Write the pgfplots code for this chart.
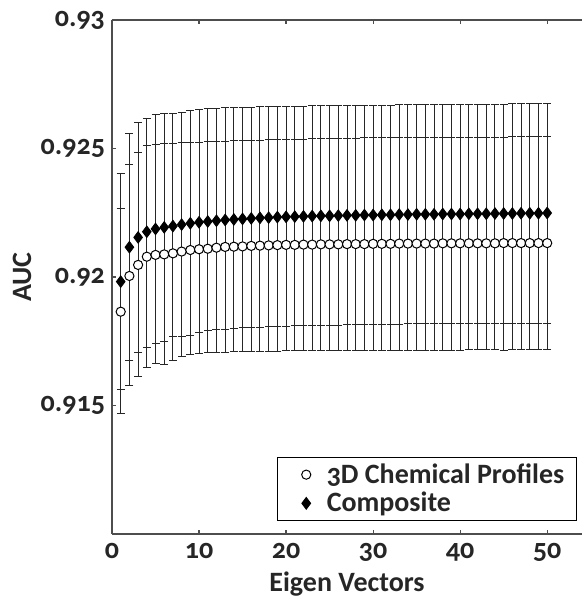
\documentclass[border=0pt]{standalone}
\usepackage{fontspec}
\setmainfont{Carlito}[Numbers=OldStyle]
\usepackage{pgfplots}
\pgfplotsset{compat=1.18}
\usepackage{pgfplotstable}

\definecolor{axc}{HTML}{4D4D4D}
\definecolor{txc}{HTML}{262626}

% x, composite, 3D profiles, outer bar centre/half, inner bar centre/half
\pgfplotstableread{
x d c oc oh ic ih
1 0.91982 0.91865 0.91936 0.00468 0.91915 0.00351
2 0.92116 0.92004 0.92068 0.00492 0.92057 0.00382
3 0.92154 0.92047 0.92106 0.00494 0.92095 0.00388
4 0.92176 0.92079 0.92132 0.00485 0.92118 0.00393
5 0.92187 0.92086 0.92149 0.00485 0.92129 0.00387
6 0.92193 0.92088 0.92149 0.00488 0.92134 0.00385
7 0.92198 0.92092 0.92157 0.00480 0.92144 0.00376
8 0.92204 0.92099 0.92166 0.00476 0.92146 0.00376
9 0.92209 0.92105 0.92172 0.00475 0.92148 0.00374
10 0.92213 0.92108 0.92177 0.00475 0.92155 0.00370
11 0.92216 0.92110 0.92180 0.00475 0.92159 0.00369
12 0.92219 0.92114 0.92181 0.00475 0.92161 0.00367
13 0.92222 0.92117 0.92183 0.00475 0.92163 0.00366
14 0.92224 0.92118 0.92184 0.00475 0.92165 0.00365
15 0.92226 0.92119 0.92185 0.00475 0.92167 0.00365
16 0.92228 0.92121 0.92186 0.00475 0.92168 0.00364
17 0.92230 0.92122 0.92187 0.00475 0.92169 0.00364
18 0.92231 0.92123 0.92187 0.00476 0.92170 0.00364
19 0.92233 0.92124 0.92188 0.00476 0.92171 0.00364
20 0.92234 0.92125 0.92189 0.00476 0.92172 0.00364
21 0.92235 0.92125 0.92189 0.00476 0.92173 0.00363
22 0.92236 0.92126 0.92189 0.00476 0.92173 0.00363
23 0.92237 0.92126 0.92190 0.00476 0.92174 0.00363
24 0.92238 0.92127 0.92190 0.00477 0.92175 0.00363
25 0.92238 0.92127 0.92190 0.00477 0.92175 0.00363
26 0.92239 0.92127 0.92190 0.00477 0.92176 0.00363
27 0.92240 0.92128 0.92191 0.00477 0.92177 0.00363
28 0.92240 0.92128 0.92191 0.00477 0.92177 0.00363
29 0.92241 0.92128 0.92191 0.00477 0.92178 0.00363
30 0.92241 0.92129 0.92191 0.00477 0.92178 0.00363
31 0.92242 0.92129 0.92192 0.00477 0.92179 0.00362
32 0.92242 0.92129 0.92192 0.00477 0.92179 0.00362
33 0.92243 0.92130 0.92192 0.00478 0.92179 0.00362
34 0.92243 0.92130 0.92192 0.00478 0.92180 0.00362
35 0.92244 0.92130 0.92193 0.00478 0.92180 0.00362
36 0.92244 0.92130 0.92193 0.00478 0.92180 0.00362
37 0.92244 0.92130 0.92193 0.00478 0.92181 0.00362
38 0.92245 0.92131 0.92193 0.00478 0.92181 0.00362
39 0.92245 0.92131 0.92193 0.00478 0.92181 0.00362
40 0.92245 0.92131 0.92193 0.00478 0.92181 0.00362
41 0.92246 0.92131 0.92194 0.00478 0.92182 0.00362
42 0.92246 0.92131 0.92194 0.00478 0.92182 0.00362
43 0.92246 0.92131 0.92194 0.00478 0.92182 0.00362
44 0.92247 0.92131 0.92194 0.00478 0.92182 0.00362
45 0.92247 0.92132 0.92194 0.00479 0.92182 0.00362
46 0.92247 0.92132 0.92195 0.00479 0.92183 0.00362
47 0.92248 0.92132 0.92195 0.00479 0.92183 0.00362
48 0.92248 0.92132 0.92195 0.00479 0.92183 0.00362
49 0.92248 0.92132 0.92195 0.00479 0.92183 0.00362
50 0.92249 0.92132 0.92195 0.00479 0.92183 0.00362
}\datatab

\begin{document}
\begin{tikzpicture}
\begin{axis}[
  scale only axis, width=235pt, height=257pt,
  xmin=0, xmax=54, ymin=0.91, ymax=0.93,
  axis x line*=box, axis y line*=left,
  axis line style={axc, line width=0.6pt},
  xtick={0,10,20,30,40,50}, ytick={0.915,0.92,0.925,0.93},
  yticklabels={0.915,0.92,0.925,0.93},
  ytick pos=left, tick align=inside,
  major tick length=2pt, tick style={axc, line width=0.6pt},
  /pgf/number format/assume math mode=true,
  every tick label/.append style={font=\fontsize{14}{16}\selectfont\bfseries, text=txc},
  xticklabel style={yshift=-1pt},
  xlabel={Eigen Vectors}, ylabel={AUC},
  every axis y label/.style={at={(axis description cs:-0.1915,0.5)}, rotate=90, anchor=center,
    font=\fontsize{14}{16}\selectfont\bfseries, text=txc},
  every axis x label/.style={at={(axis description cs:0.5,-0.1109)}, anchor=base,
    font=\fontsize{14}{16}\selectfont\bfseries, text=txc, inner sep=0pt},
  legend style={at={(axis description cs:0.989,0.025)}, anchor=south east,
    draw=black, line width=0.5pt, fill=white,
    font=\fontsize{14}{16}\selectfont\bfseries, text=txc,
    inner xsep=4pt, inner ysep=1pt, row sep=-1pt},
  legend cell align=left,
  legend image code/.code={\path (-10pt,0pt) (8pt,0pt); \draw[#1] plot coordinates {(0pt,0pt)};},
]
% outer and inner error bars
\addplot[draw=none, no markers, forget plot,
  error bars/.cd, y dir=both, y explicit, error mark=-,
  error bar style={draw=black!85, line width=0.5pt, solid},
  error mark options={draw=black!85, line width=0.5pt, mark size=2pt, rotate=90}]
  table[x=x, y=oc, y error=oh] {\datatab};
\addplot[draw=none, no markers, forget plot,
  error bars/.cd, y dir=both, y explicit, error mark=-,
  error bar style={draw=black!85, line width=0.5pt, solid},
  error mark options={draw=black!85, line width=0.5pt, mark size=2pt, rotate=90}]
  table[x=x, y=ic, y error=ih] {\datatab};
% markers
\addplot[only marks, mark=*, mark size=2.3pt,
  mark options={fill=white, draw=black, line width=0.5pt}]
  table[x=x, y=c] {\datatab};
\addlegendentry{3D Chemical Profiles}
\addplot[only marks, mark=diamond*, mark size=2.9pt,
  mark options={fill=black, draw=black}]
  table[x=x, y=d] {\datatab};
\addlegendentry{Composite}
\end{axis}
\pgfresetboundingbox
\path (current axis.south west) ++(-56pt,-32.5pt) rectangle ([yshift=10pt]current axis.north east);
\end{tikzpicture}
\end{document}
